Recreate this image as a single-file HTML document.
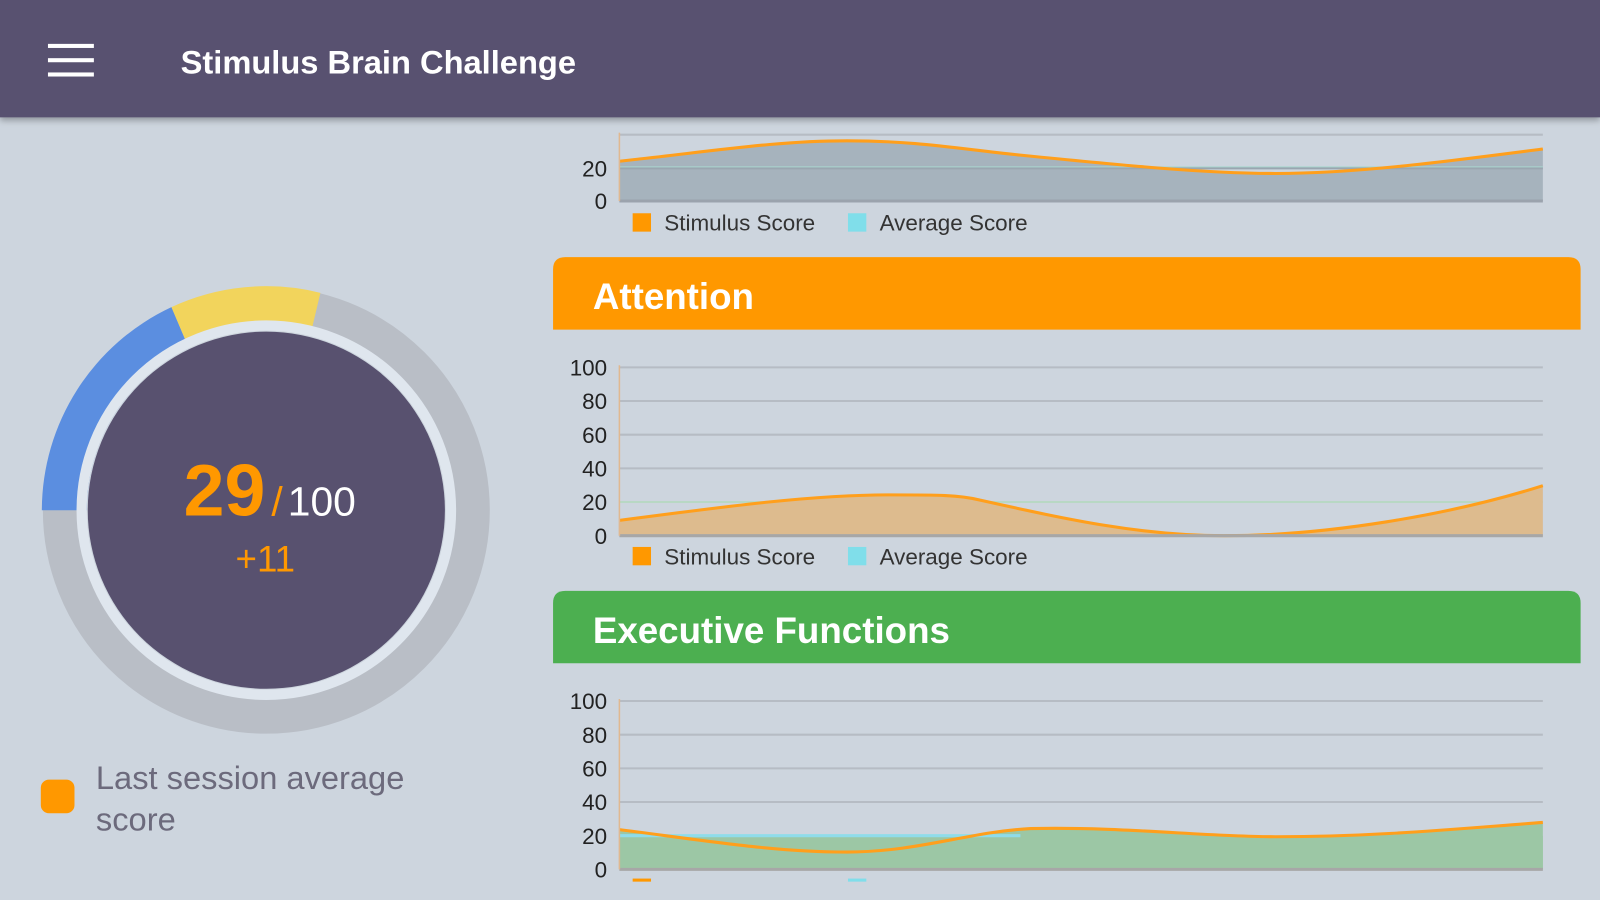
<!DOCTYPE html>
<html><head><meta charset="utf-8"><style>
html,body{margin:0;padding:0;width:1600px;height:900px;overflow:hidden;background:#cdd5de}
svg{display:block}
text{font-family:"Liberation Sans",sans-serif}
</style></head><body>
<svg width="1600" height="900" viewBox="0 0 1568 882" preserveAspectRatio="none">
<defs>
<filter id="sh" x="-5%" y="-50%" width="110%" height="200%"><feDropShadow dx="0" dy="3" stdDeviation="3" flood-color="#000" flood-opacity="0.3"/></filter>
</defs>
<rect width="1568" height="882" fill="#cdd5de"/>

<!-- Top chart -->
<g>
<line x1="607" y1="132" x2="1512" y2="132" stroke="#b6bcc4" stroke-width="2"/>
<path d="M607,158 C700,148 760,138 830,138 C900,138 940,146 1000,152 C1100,162 1180,170 1250,170 C1330,170 1420,158 1512,146 L1512,197 L607,197 Z" fill="#a6b3bd"/>
<line x1="607" y1="164" x2="1512" y2="164" stroke="#a9d6cf" stroke-width="2"/>
<line x1="607" y1="165" x2="1512" y2="165" stroke="#9aa6b0" stroke-width="2"/>
<path d="M607,158 C700,148 760,138 830,138 C900,138 940,146 1000,152 C1100,162 1180,170 1250,170 C1330,170 1420,158 1512,146" fill="none" stroke="#ff9f1c" stroke-width="3"/>
<line x1="607" y1="197" x2="1512" y2="197" stroke="#9ba3ad" stroke-width="3"/>
<line x1="607" y1="130" x2="607" y2="197" stroke="#e0b890" stroke-width="1.5"/>
<g font-size="22" fill="#222" text-anchor="end"><text x="595" y="173">20</text><text x="595" y="205">0</text></g>
<rect x="620" y="209" width="18" height="18" fill="#ff9800"/><text x="651" y="226" font-size="22" fill="#333">Stimulus Score</text>
<rect x="831" y="209" width="18" height="18" fill="#80deea"/><text x="862" y="226" font-size="22" fill="#333">Average Score</text>
</g>

<!-- Attention header -->
<path d="M542,323 L542,264 Q542,252 554,252 L1537,252 Q1549,252 1549,264 L1549,323 Z" fill="#ff9800"/>
<text x="581" y="303" font-size="36" font-weight="bold" fill="#fff">Attention</text>

<!-- Attention chart -->
<g stroke="#b6bcc4" stroke-width="2">
<line x1="607" y1="360" x2="1512" y2="360"/><line x1="607" y1="393" x2="1512" y2="393"/><line x1="607" y1="426" x2="1512" y2="426"/><line x1="607" y1="459" x2="1512" y2="459"/><line x1="607" y1="492" x2="1512" y2="492"/>
</g>
<line x1="607" y1="492" x2="1512" y2="492" stroke="#b8d8c4" stroke-width="2"/>
<path d="M607,510 C720,495 800,485 870,485 C920,485 940,485 960,490 C1050,510 1120,525 1200,525 C1300,525 1420,505 1512,476 L1512,525 L607,525 Z" fill="#ddbb8e"/>
<path d="M607,510 C720,495 800,485 870,485 C920,485 940,485 960,490 C1050,510 1120,525 1200,525 C1300,525 1420,505 1512,476" fill="none" stroke="#ff9f1c" stroke-width="3"/>
<line x1="607" y1="525" x2="1512" y2="525" stroke="#a7a7a7" stroke-width="3"/>
<line x1="607" y1="358" x2="607" y2="525" stroke="#e0b890" stroke-width="1.5"/>
<g font-size="22" fill="#222" text-anchor="end"><text x="595" y="368">100</text><text x="595" y="401">80</text><text x="595" y="434">60</text><text x="595" y="467">40</text><text x="595" y="500">20</text><text x="595" y="533">0</text></g>
<rect x="620" y="536" width="18" height="18" fill="#ff9800"/><text x="651" y="553" font-size="22" fill="#333">Stimulus Score</text>
<rect x="831" y="536" width="18" height="18" fill="#80deea"/><text x="862" y="553" font-size="22" fill="#333">Average Score</text>

<!-- Exec header -->
<path d="M542,650 L542,591 Q542,579 554,579 L1537,579 Q1549,579 1549,591 L1549,650 Z" fill="#4caf50"/>
<text x="581" y="630" font-size="36" font-weight="bold" fill="#fff">Executive Functions</text>

<!-- Exec chart -->
<g stroke="#b6bcc4" stroke-width="2">
<line x1="607" y1="687" x2="1512" y2="687"/><line x1="607" y1="720" x2="1512" y2="720"/><line x1="607" y1="753" x2="1512" y2="753"/><line x1="607" y1="786" x2="1512" y2="786"/>
</g>
<path d="M607,819 L1512,819 L1512,852 L607,852 Z" fill="#9cc7a5"/>
<path d="M607,813 C700,825 760,835 830,835 C900,835 950,815 1010,812 C1100,810 1180,820 1250,820 C1350,820 1430,812 1512,806 L1512,852 L607,852 Z" fill="#9cc7a5"/>
<line x1="607" y1="819" x2="1000" y2="819" stroke="#8fdcea" stroke-width="3"/>
<path d="M607,813 C700,825 760,835 830,835 C900,835 950,815 1010,812 C1100,810 1180,820 1250,820 C1350,820 1430,812 1512,806" fill="none" stroke="#ff9f1c" stroke-width="3"/>
<line x1="607" y1="852" x2="1512" y2="852" stroke="#a7a7a7" stroke-width="3"/>
<line x1="607" y1="685" x2="607" y2="852" stroke="#e0b890" stroke-width="1.5"/>
<g font-size="22" fill="#222" text-anchor="end"><text x="595" y="695">100</text><text x="595" y="728">80</text><text x="595" y="761">60</text><text x="595" y="794">40</text><text x="595" y="827">20</text><text x="595" y="860">0</text></g>
<rect x="620" y="861" width="18" height="3" fill="#ff9800"/><rect x="831" y="861" width="18" height="3" fill="#80deea"/>

<!-- Donut -->
<circle cx="261" cy="500" r="198" fill="none" stroke="#b9bec6" stroke-width="42"/>
<!-- blue arc: from 180deg (left) to -25deg from top -->
<path d="M41,500 A220,220 0 0 1 168,301 L185,341 A176,176 0 0 0 85,500 Z" fill="#5b8ee0"/>
<path d="M168,301 A220,220 0 0 1 314,287 L304,329 A176,176 0 0 0 185,341 Z" fill="#f2d45c"/>
<circle cx="261" cy="500" r="181" fill="none" stroke="#dfe6ee" stroke-width="10"/>
<circle cx="261" cy="500" r="175" fill="#58516f"/>
<text x="220" y="505" font-size="72" font-weight="bold" fill="#ff9800" text-anchor="middle">29</text>
<text x="266" y="505" font-size="40" fill="#ff9800">/</text>
<text x="282" y="505" font-size="40" fill="#fff">100</text>
<text x="260" y="560" font-size="36" fill="#ff9800" text-anchor="middle">+11</text>

<rect x="40" y="764" width="33" height="33" rx="8" fill="#ff9800"/>
<text x="94" y="773" font-size="32" fill="#6c6a7c">Last session average</text>
<text x="94" y="814" font-size="32" fill="#6c6a7c">score</text>

<!-- Header -->
<rect x="0" y="0" width="1568" height="115" fill="#58516f" filter="url(#sh)"/>
<g fill="#fff"><rect x="47" y="43" width="45" height="4"/><rect x="47" y="57" width="45" height="4"/><rect x="47" y="71" width="45" height="4"/></g>
<text x="177" y="72" font-size="32" font-weight="bold" fill="#fff">Stimulus Brain Challenge</text>
</svg>
</body></html>
